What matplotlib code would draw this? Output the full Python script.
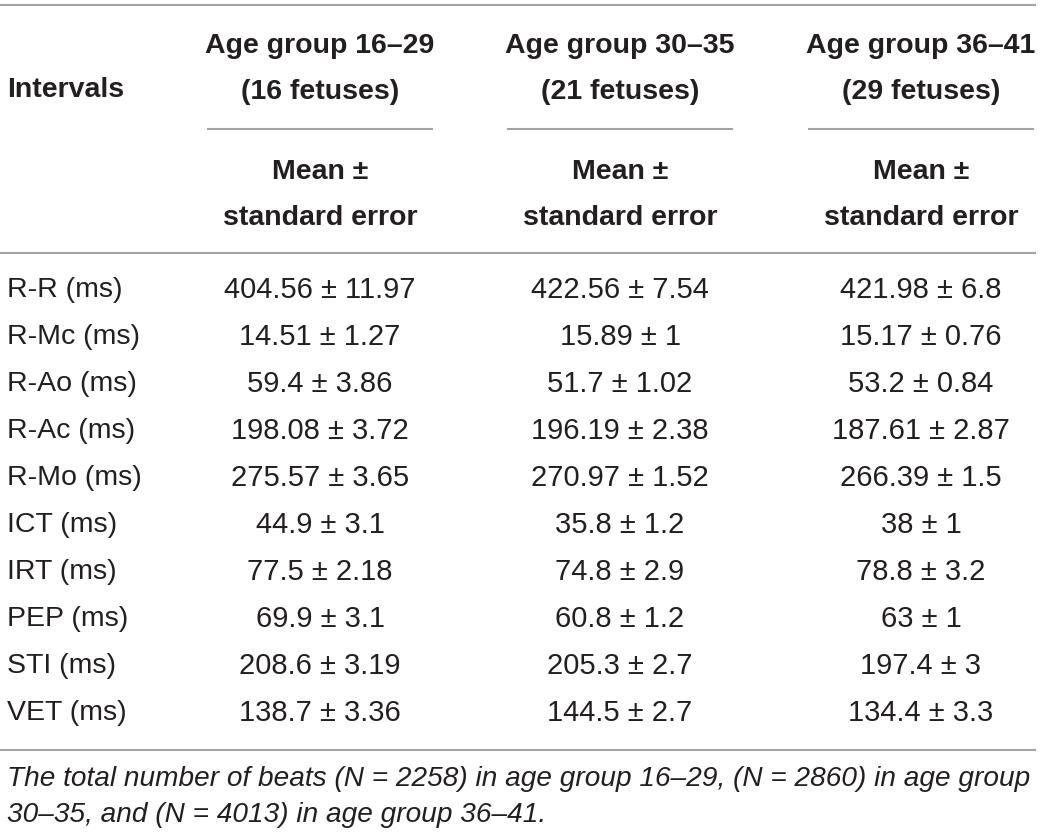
import matplotlib.pyplot as plt

plt.rcParams['font.family'] = ['Liberation Sans', 'DejaVu Sans']

# table content
intervals = ['R-R (ms)', 'R-Mc (ms)', 'R-Ao (ms)', 'R-Ac (ms)', 'R-Mo (ms)',
             'ICT (ms)', 'IRT (ms)', 'PEP (ms)', 'STI (ms)', 'VET (ms)']
groups = ['Age group 16\u201329', 'Age group 30\u201335', 'Age group 36\u201341']
fetuses = ['(16 fetuses)', '(21 fetuses)', '(29 fetuses)']

mean_16_29 = ['404.56', '14.51', '59.4', '198.08', '275.57', '44.9', '77.5', '69.9', '208.6', '138.7']
se_16_29 = ['11.97', '1.27', '3.86', '3.72', '3.65', '3.1', '2.18', '3.1', '3.19', '3.36']
mean_30_35 = ['422.56', '15.89', '51.7', '196.19', '270.97', '35.8', '74.8', '60.8', '205.3', '144.5']
se_30_35 = ['7.54', '1', '1.02', '2.38', '1.52', '1.2', '2.9', '1.2', '2.7', '2.7']
mean_36_41 = ['421.98', '15.17', '53.2', '187.61', '266.39', '38', '78.8', '63', '197.4', '134.4']
se_36_41 = ['6.8', '0.76', '0.84', '2.87', '1.5', '1', '3.2', '1', '3', '3.3']

footnote = ('The total number of beats (N = 2258) in age group 16\u201329, (N = 2860) in age group\n'
            '30\u201335, and (N = 4013) in age group 36\u201341.')

means = [mean_16_29, mean_30_35, mean_36_41]
ses = [se_16_29, se_30_35, se_36_41]

W, H = 1040, 836
fig = plt.figure(figsize=(W / 100, H / 100), dpi=100)
ax = fig.add_axes([0, 0, 1, 1])
ax.set_xlim(0, W)
ax.set_ylim(H, 0)
ax.axis('off')

txt = '#231f20'
rule = '#a3a3a3'
fs_head = 20.5
fs = 21

left = 7
col_x = [320, 620, 921]
col_half = 112
first_row = 290
row_step = 47

# rules
ax.plot([0, 1035], [5, 5], color=rule, lw=1.5)
ax.plot([0, 1035], [253, 253], color=rule, lw=1.5)
ax.plot([0, 1035], [750, 750], color=rule, lw=1.5)

# header
ax.text(left, 90, 'Intervals', fontsize=fs_head, fontweight='bold', color=txt, va='center', ha='left')
for j in range(3):
    cx = col_x[j]
    ax.text(cx, 46, groups[j], fontsize=fs_head, fontweight='bold', color=txt, va='center', ha='center')
    ax.text(cx, 92, fetuses[j], fontsize=fs_head, fontweight='bold', color=txt, va='center', ha='center')
    ax.plot([cx - col_half, cx + col_half], [129, 129], color=rule, lw=1.5)
    ax.text(cx, 172, 'Mean \u00b1', fontsize=fs_head, fontweight='bold', color=txt, va='center', ha='center')
    ax.text(cx, 218, 'standard error', fontsize=fs_head, fontweight='bold', color=txt, va='center', ha='center')

# body
for i, name in enumerate(intervals):
    y = first_row + i * row_step
    ax.text(left, y, name, fontsize=20.5, color=txt, va='center', ha='left')
    for j in range(3):
        ax.text(col_x[j], y, f'{means[j][i]} \u00b1 {ses[j][i]}', fontsize=fs,
                color=txt, va='center', ha='center')

# footnote
ax.text(left, 797, footnote, fontsize=20.2, style='italic', color=txt,
        va='center', ha='left', linespacing=1.48)

plt.savefig('out.png', dpi=100)
